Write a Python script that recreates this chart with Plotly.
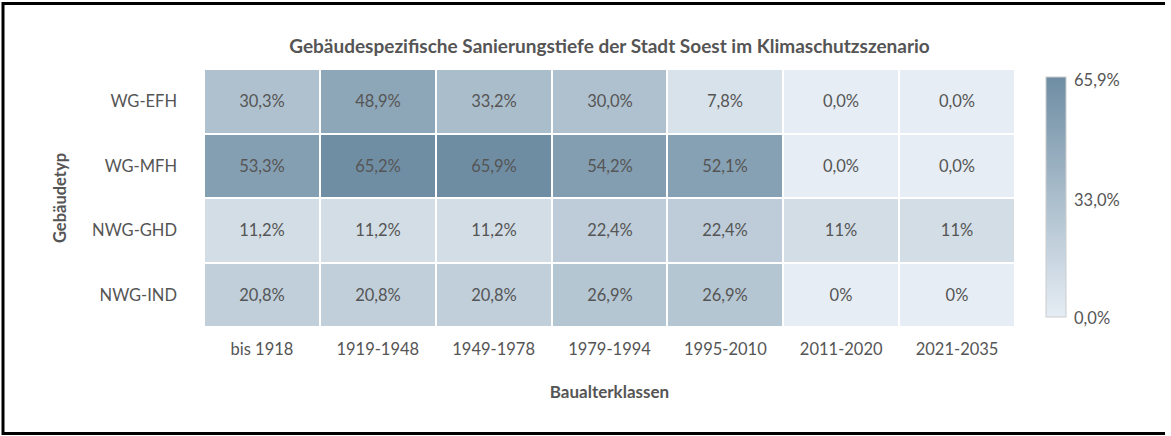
import plotly.graph_objects as go

# Building age classes (x) and building types (y)
baualterklassen = ["bis 1918", "1919-1948", "1949-1978", "1979-1994",
                   "1995-2010", "2011-2020", "2021-2035"]
gebaeudetypen = ["WG-EFH", "WG-MFH", "NWG-GHD", "NWG-IND"]

# Renovation depth in percent, one list per building type
wg_efh = [30.3, 48.9, 33.2, 30.0, 7.8, 0.0, 0.0]
wg_mfh = [53.3, 65.2, 65.9, 54.2, 52.1, 0.0, 0.0]
nwg_ghd = [11.2, 11.2, 11.2, 22.4, 22.4, 11, 11]
nwg_ind = [20.8, 20.8, 20.8, 26.9, 26.9, 0, 0]

# Decimal places shown in each cell label
dec_efh = [1, 1, 1, 1, 1, 1, 1]
dec_mfh = [1, 1, 1, 1, 1, 1, 1]
dec_ghd = [1, 1, 1, 1, 1, 0, 0]
dec_ind = [1, 1, 1, 1, 1, 0, 0]

z = [wg_efh, wg_mfh, nwg_ghd, nwg_ind]
decimals = [dec_efh, dec_mfh, dec_ghd, dec_ind]


def fmt(v, d):
    return f"{v:.{d}f}".replace(".", ",") + "%"


text = [[fmt(v, d) for v, d in zip(row, drow)] for row, drow in zip(z, decimals)]

zmin = 0.0
zmax = max(max(r) for r in z)

W, H = 1171, 436
L, R, T, B = 204, 156, 69, 109
plot_w = W - L - R
plot_h = H - T - B

FONT = "Lato"
TXT = "#555555"
FS = 16.5


def px_x(x):
    return (x - L) / plot_w


def px_y(y):
    return (H - B - y) / plot_h


fig = go.Figure(
    go.Heatmap(
        x=baualterklassen,
        y=gebaeudetypen,
        z=z,
        text=text,
        texttemplate="%{text}",
        textfont=dict(family=FONT, size=FS, color=TXT),
        zmin=zmin,
        zmax=zmax,
        colorscale=[[0, "#e6edf4"], [1, "#6e8da3"]],
        xgap=2,
        ygap=2,
        hoverinfo="skip",
        colorbar=dict(
            x=px_x(1036),
            xanchor="left",
            y=1 + 2 / plot_h,
            yanchor="top",
            len=(plot_h + 2) / plot_h,
            lenmode="fraction",
            thickness=20,
            outlinecolor="#cccccc",
            outlinewidth=1,
            showticklabels=False,
            ticks="",
        ),
    )
)

# Colorbar labels: max, midpoint and min of the scale
cb_labels = [(zmax, 80), ((zmax + zmin) / 2, 200), (zmin, 318)]
for val, ypix in cb_labels:
    fig.add_annotation(
        text=fmt(val, 1),
        xref="paper", yref="paper",
        x=px_x(1072), y=px_y(ypix),
        xanchor="left", yanchor="middle",
        showarrow=False,
        font=dict(family=FONT, size=FS, color=TXT),
    )

# Outer frame: left, top and bottom edges
frame = dict(color="black", width=3)
for x0, y0, x1, y1 in [(3, 2, 3, 435), (2, 3.5, W - 6, 3.5), (2, 433.5, W - 6, 433.5)]:
    fig.add_shape(type="line", xref="paper", yref="paper",
                  x0=px_x(x0), y0=px_y(y0), x1=px_x(x1), y1=px_y(y1),
                  line=frame, layer="above")

fig.update_layout(
    width=W,
    height=H,
    margin=dict(l=L, r=R, t=T, b=B, pad=0),
    paper_bgcolor="white",
    plot_bgcolor="white",
    font=dict(family=FONT, color=TXT),
    title=dict(
        text="<b>Gebäudespezifische Sanierungstiefe der Stadt Soest im Klimaschutzszenario</b>",
        x=0.5, xref="paper", xanchor="center",
        y=1 - 46 / H, yanchor="middle",
        font=dict(family=FONT, size=19, color=TXT),
    ),
    xaxis=dict(
        title=dict(text="<b>Baualterklassen</b>", font=dict(family=FONT, size=17, color=TXT),
                   standoff=28),
        tickfont=dict(family=FONT, size=FS, color=TXT),
        ticks="", showgrid=False, zeroline=False, showline=False,
        ticklabelstandoff=10,
    ),
    yaxis=dict(
        title=dict(text="<b>Gebäudetyp</b>", font=dict(family=FONT, size=16.5, color=TXT),
                   standoff=21),
        tickfont=dict(family=FONT, size=FS, color=TXT),
        ticks="", showgrid=False, zeroline=False, showline=False,
        autorange="reversed",
        ticklabelstandoff=26,
    ),
)

fig.write_html("out.html")
